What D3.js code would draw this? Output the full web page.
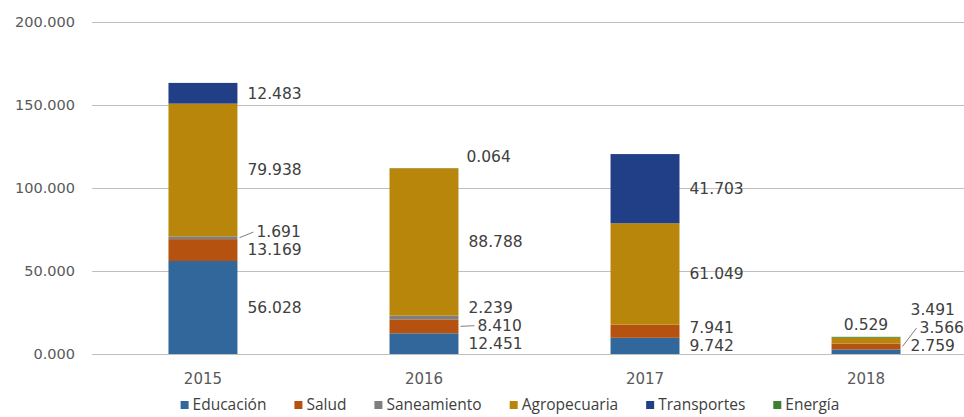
<!DOCTYPE html>
<html lang="es">
<head>
    <meta charset="UTF-8">
    <title>Inversión por sector</title>
    <script src="https://d3js.org/d3.v7.min.js"></script>
    <style>
        body {
            margin: 0;
            background: white;
        }
        svg {
            display: block;
        }
        .tick-label {
            font-family: "DejaVu Sans", sans-serif;
            font-size: 14.5px;
            fill: #595959;
        }
        .data-label {
            font-family: "DejaVu Sans", sans-serif;
            font-size: 15.5px;
            fill: #404040;
        }
        .legend-label {
            font-family: "Open Sans", sans-serif;
            font-size: 15.5px;
            fill: #404040;
        }
    </style>
</head>
<body>
    <svg width="964" height="417"></svg>

    <script>
        // data
        const years = ["2015", "2016", "2017", "2018"];
        const seriesNames = ["Educación", "Salud", "Saneamiento", "Agropecuaria", "Transportes", "Energía"];
        const educacion    = [56.028, 12.451, 9.742, 2.759];
        const salud        = [13.169, 8.410, 7.941, 3.566];
        const saneamiento  = [1.691, 2.239, 0, 0];
        const agropecuaria = [79.938, 88.788, 61.049, 3.491];
        const transportes  = [12.483, 0.064, 41.703, 0];
        const energia      = [0, 0, 0, 0.529];
        const yTicks = [0, 50, 100, 150, 200];
        // labels that Excel drew with a leader line
        const leaderKeys = ["2015|Saneamiento", "2016|Salud", "2018|Salud"];

        const seriesValues = [educacion, salud, saneamiento, agropecuaria, transportes, energia];
        const colors = ["#31679a", "#b5520f", "#7f7f7f", "#b8860a", "#213f86", "#3f8030"];

        const width = 964, height = 417;
        const svg = d3.select("svg");

        const x = d3.scaleBand()
            .domain(years)
            .range([92, 977])
            .paddingInner(0.688)
            .paddingOuter(0.346);

        const y = d3.scaleLinear()
            .domain([0, 200])
            .range([354, 22]);

        const fmt = d3.format(".3f");

        // gridlines + tick labels
        svg.append("g")
            .selectAll("line")
            .data(yTicks)
            .join("line")
            .attr("x1", 92)
            .attr("x2", width)
            .attr("y1", d => Math.round(y(d)) + 0.5)
            .attr("y2", d => Math.round(y(d)) + 0.5)
            .attr("stroke", "#bfbfbf")
            .attr("stroke-width", 1);

        svg.append("g")
            .selectAll("text")
            .data(yTicks)
            .join("text")
            .attr("class", "tick-label")
            .attr("x", 75)
            .attr("y", d => y(d))
            .attr("dy", "0.35em")
            .attr("text-anchor", "end")
            .text(d => fmt(d));

        // stacked data
        const table = years.map((yr, i) => {
            const row = { year: yr };
            seriesNames.forEach((s, j) => row[s] = seriesValues[j][i]);
            return row;
        });
        const stacked = d3.stack().keys(seriesNames)(table);

        svg.append("g")
            .selectAll("g")
            .data(stacked)
            .join("g")
            .attr("fill", (d, i) => colors[i])
            .selectAll("rect")
            .data(d => d.filter(p => p[1] - p[0] > 0))
            .join("rect")
            .attr("x", d => x(d.data.year))
            .attr("width", x.bandwidth())
            .attr("y", d => y(d[1]))
            .attr("height", d => y(d[0]) - y(d[1]));

        // year labels
        svg.append("g")
            .selectAll("text")
            .data(years)
            .join("text")
            .attr("class", "tick-label")
            .attr("x", d => x(d) + x.bandwidth() / 2)
            .attr("y", 379)
            .attr("dy", "0.35em")
            .attr("text-anchor", "middle")
            .style("font-size", "15px")
            .text(d => d);

        // data labels, stacked to the right of each bar without overlap
        const labelGroup = svg.append("g");
        const gap = 18;
        years.forEach((yr, i) => {
            const segs = [];
            stacked.forEach(layer => {
                const p = layer[i];
                const v = p[1] - p[0];
                if (v > 0) segs.push({ key: layer.key, v, y0: p[0], y1: p[1], cy: y((p[0] + p[1]) / 2) });
            });
            const barRight = x(yr) + x.bandwidth();
            const barMid = x(yr) + x.bandwidth() / 2;
            let prev = Infinity;
            segs.forEach((s, k) => {
                const isTopTiny = k === segs.length - 1 && s.v < 1 && segs.length > 1;
                if (isTopTiny) {
                    s.ly = y(s.y1) - 12;
                    if (s.ly > prev - gap) {
                        s.lx = barMid;
                        s.anchor = "middle";
                    } else {
                        s.lx = barRight + 8;
                        s.anchor = "start";
                    }
                } else {
                    s.ly = Math.min(s.cy, y(0) - 8, prev - gap);
                    s.lx = barRight + 10;
                    s.anchor = "start";
                }
                s.leader = leaderKeys.includes(yr + "|" + s.key);
                if (s.leader) s.lx = barRight + 19;
                prev = s.ly;
            });

            segs.filter(s => s.leader).forEach(s => {
                labelGroup.append("line")
                    .attr("x1", barRight + 2)
                    .attr("y1", s.cy)
                    .attr("x2", s.lx - 3)
                    .attr("y2", s.ly)
                    .attr("stroke", "#7f7f7f")
                    .attr("stroke-width", 1);
            });

            labelGroup.selectAll(null)
                .data(segs)
                .enter()
                .append("text")
                .attr("class", "data-label")
                .attr("x", d => d.lx)
                .attr("y", d => d.ly)
                .attr("dy", "0.35em")
                .attr("text-anchor", d => d.anchor)
                .text(d => fmt(d.v));
        });

        // legend, centred under the plot
        const legend = svg.append("g").attr("transform", "translate(0,405)");
        const items = legend.selectAll("g")
            .data(seriesNames)
            .join("g");
        items.append("rect")
            .attr("y", -4)
            .attr("width", 8)
            .attr("height", 8)
            .attr("fill", (d, i) => colors[i]);
        items.append("text")
            .attr("class", "legend-label")
            .attr("x", 12)
            .attr("dy", "0.35em")
            .text(d => d);

        const itemGap = 28;
        let cursor = 0;
        const offsets = [];
        items.each(function () {
            const w = d3.select(this).select("text").node().getComputedTextLength();
            offsets.push(cursor);
            cursor += 12 + w + itemGap;
        });
        const total = cursor - itemGap;
        const start = 510 - total / 2;
        items.attr("transform", (d, i) => `translate(${start + offsets[i]},0)`);
    </script>
</body>
</html>
